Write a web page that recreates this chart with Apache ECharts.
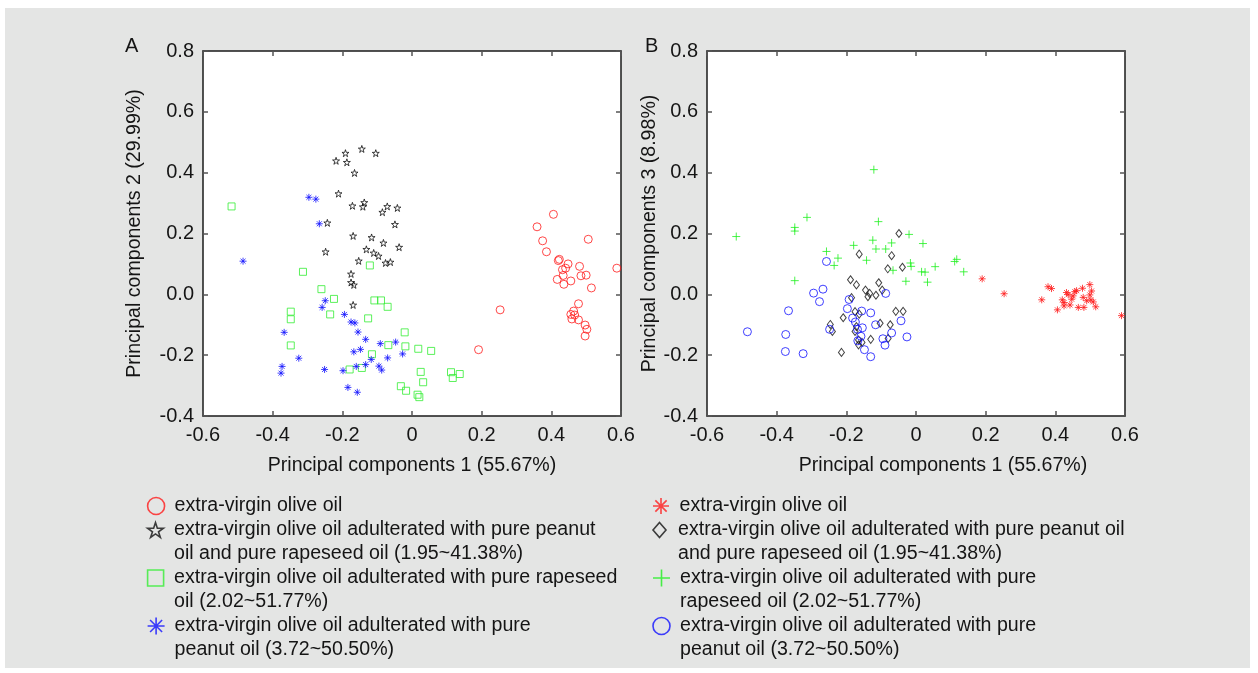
<!DOCTYPE html>
<html>
<head>
<meta charset="utf-8">
<script src="https://cdn.jsdelivr.net/npm/echarts@6/dist/echarts.min.js"></script>
<style>
  html, body { margin: 0; padding: 0; background: #fff; }
  #panel { position: absolute; left: 5px; top: 8px; width: 1245px; height: 660px; background: #e4e5e4; }
  #chart { position: absolute; left: 0; top: 0; width: 1258px; height: 673px; }
</style>
</head>
<body>
<div id="panel"></div>
<div id="chart"></div>
<script>
// Tick labels shared by both panels
const xTickLabels = ['-0.6', '-0.4', '-0.2', '0', '0.2', '0.4', '0.6'];
const yTickLabels = ['-0.4', '-0.2', '0.0', '0.2', '0.4', '0.6', '0.8'];

const panelTitles = ['A', 'B'];
const xAxisTitles = ['Principal components 1 (55.67%)', 'Principal components 1 (55.67%)'];
const yAxisTitles = ['Principal components 2 (29.99%)', 'Principal components 3 (8.98%)'];

// Panel A: PC1 vs PC2 scores
const aOlive = [
  [0.406, 0.263], [0.359, 0.222], [0.506, 0.181], [0.375, 0.176], [0.386, 0.140],
  [0.423, 0.115], [0.420, 0.111], [0.448, 0.100], [0.481, 0.092], [0.588, 0.086],
  [0.432, 0.081], [0.441, 0.086], [0.434, 0.062], [0.485, 0.061], [0.500, 0.063],
  [0.417, 0.049], [0.456, 0.044], [0.436, 0.033], [0.515, 0.021], [0.478, -0.031],
  [0.464, -0.055], [0.456, -0.066], [0.467, -0.068], [0.459, -0.081], [0.478, -0.084],
  [0.497, -0.101], [0.502, -0.115], [0.497, -0.137], [0.253, -0.051], [0.191, -0.182]
];
const aPeanutRapeseed = [
  [-0.144, 0.478], [-0.191, 0.464], [-0.104, 0.464], [-0.218, 0.439], [-0.187, 0.434],
  [-0.165, 0.399], [-0.211, 0.331], [-0.171, 0.291], [-0.137, 0.302], [-0.141, 0.288],
  [-0.071, 0.289], [-0.042, 0.284], [-0.085, 0.270], [-0.243, 0.235], [-0.049, 0.230],
  [-0.169, 0.192], [-0.116, 0.187], [-0.082, 0.169], [-0.037, 0.155], [-0.131, 0.148],
  [-0.248, 0.140], [-0.110, 0.136], [-0.096, 0.126], [-0.153, 0.110], [-0.076, 0.103],
  [-0.062, 0.106], [-0.175, 0.067], [-0.175, 0.039], [-0.167, 0.031], [-0.169, -0.035]
];
const aRapeseed = [
  [-0.518, 0.289], [-0.121, 0.095], [-0.313, 0.074], [-0.260, 0.017], [-0.224, -0.015],
  [-0.108, -0.020], [-0.089, -0.020], [-0.070, -0.041], [-0.348, -0.057], [-0.348, -0.082],
  [-0.235, -0.066], [-0.126, -0.079], [-0.021, -0.125], [-0.348, -0.168], [-0.068, -0.167],
  [-0.019, -0.171], [0.018, -0.179], [0.055, -0.186], [-0.115, -0.197], [-0.179, -0.247],
  [-0.144, -0.242], [0.025, -0.255], [0.032, -0.289], [-0.032, -0.302], [-0.017, -0.317],
  [0.016, -0.330], [0.021, -0.338], [0.112, -0.256], [0.137, -0.262], [0.117, -0.275]
];
const aPeanut = [
  [-0.296, 0.319], [-0.276, 0.313], [-0.266, 0.232], [-0.485, 0.109], [-0.249, -0.021],
  [-0.258, -0.043], [-0.194, -0.066], [-0.175, -0.091], [-0.164, -0.094], [-0.367, -0.125],
  [-0.155, -0.124], [-0.133, -0.148], [-0.091, -0.162], [-0.047, -0.157], [-0.167, -0.189],
  [-0.148, -0.181], [-0.027, -0.196], [-0.325, -0.210], [-0.117, -0.214], [-0.070, -0.209],
  [-0.160, -0.237], [-0.133, -0.231], [-0.095, -0.236], [-0.087, -0.249], [-0.373, -0.237],
  [-0.376, -0.259], [-0.251, -0.247], [-0.198, -0.251], [-0.184, -0.306], [-0.157, -0.322]
];

// Panel B: PC1 vs PC3 scores
const bOlive = [
  [0.190, 0.051], [0.253, 0.002], [0.361, -0.018], [0.379, 0.025], [0.389, 0.019],
  [0.406, -0.051], [0.420, -0.018], [0.425, -0.027], [0.432, 0.006], [0.437, -0.001],
  [0.447, -0.016], [0.442, -0.035], [0.425, -0.038], [0.456, 0.009], [0.461, 0.012],
  [0.478, 0.020], [0.499, 0.032], [0.504, 0.011], [0.466, -0.043], [0.482, -0.043],
  [0.480, -0.010], [0.490, -0.021], [0.502, -0.018], [0.509, -0.025], [0.516, -0.041],
  [0.499, -0.002], [0.590, -0.070], [0.451, -0.005]
];
const bPeanutRapeseed = [
  [-0.049, 0.200], [-0.163, 0.132], [-0.070, 0.127], [-0.039, 0.089], [-0.081, 0.084],
  [-0.188, 0.048], [-0.107, 0.038], [-0.171, 0.031], [-0.145, 0.014], [-0.097, 0.014],
  [-0.133, 0.003], [-0.115, -0.003], [-0.138, -0.008], [-0.185, -0.011], [-0.175, -0.057],
  [-0.163, -0.065], [-0.058, -0.056], [-0.037, -0.056], [-0.209, -0.077], [-0.246, -0.099],
  [-0.103, -0.095], [-0.074, -0.100], [-0.240, -0.122], [-0.171, -0.106], [-0.175, -0.122],
  [-0.165, -0.150], [-0.130, -0.148], [-0.080, -0.145], [-0.155, -0.158], [-0.165, -0.166],
  [-0.214, -0.191]
];
const bRapeseed = [
  [-0.121, 0.410], [-0.313, 0.253], [-0.348, 0.220], [-0.348, 0.208], [-0.516, 0.190],
  [-0.108, 0.239], [-0.020, 0.197], [-0.124, 0.178], [-0.179, 0.161], [-0.070, 0.169],
  [-0.115, 0.149], [-0.087, 0.149], [0.020, 0.167], [-0.257, 0.141], [-0.224, 0.119],
  [-0.235, 0.095], [-0.142, 0.112], [-0.016, 0.103], [-0.014, 0.092], [-0.066, 0.079],
  [0.016, 0.074], [0.026, 0.073], [0.055, 0.091], [0.111, 0.108], [0.117, 0.115],
  [-0.348, 0.045], [-0.029, 0.043], [0.033, 0.040], [0.137, 0.074]
];
const bPeanut = [
  [-0.257, 0.108], [-0.267, 0.017], [-0.294, 0.004], [-0.277, -0.024], [-0.087, 0.003],
  [-0.192, -0.017], [-0.366, -0.054], [-0.197, -0.047], [-0.156, -0.055], [-0.130, -0.061],
  [-0.182, -0.078], [-0.174, -0.091], [-0.043, -0.087], [-0.116, -0.100], [-0.154, -0.110],
  [-0.248, -0.115], [-0.484, -0.123], [-0.374, -0.132], [-0.168, -0.115], [-0.158, -0.138],
  [-0.070, -0.127], [-0.026, -0.140], [-0.095, -0.146], [-0.167, -0.153], [-0.089, -0.167],
  [-0.148, -0.182], [-0.130, -0.205], [-0.375, -0.188], [-0.324, -0.195]
];

// Legend wording per series (line breaks as set in each panel)
const legendText = {
  'A olive': ['extra-virgin olive oil'],
  'A peanut+rapeseed': ['extra-virgin olive oil adulterated with pure peanut', 'oil and pure rapeseed oil (1.95~41.38%)'],
  'A rapeseed': ['extra-virgin olive oil adulterated with pure rapeseed', 'oil (2.02~51.77%)'],
  'A peanut': ['extra-virgin olive oil adulterated with pure', 'peanut oil (3.72~50.50%)'],
  'B olive': ['extra-virgin olive oil'],
  'B peanut+rapeseed': ['extra-virgin olive oil adulterated with pure peanut oil', 'and pure rapeseed oil (1.95~41.38%)'],
  'B rapeseed': ['extra-virgin olive oil adulterated with pure', 'rapeseed oil (2.02~51.77%)'],
  'B peanut': ['extra-virgin olive oil adulterated with pure', 'peanut oil (3.72~50.50%)']
};

const FONT = '"Liberation Sans", Arial, Helvetica, sans-serif';
const TEXT = '#151515';

// Marker outlines
const STAR = 'path://M0,-10L2.245,-3.09L9.511,-3.09L3.633,1.18L5.878,8.09L0,3.82L-5.878,8.09L-3.633,1.18L-9.511,-3.09L-2.245,-3.09Z';
const ASTERISK = 'path://M0,-10L0,10M-10,0L10,0M-7.07,-7.07L7.07,7.07M-7.07,7.07L7.07,-7.07';
const PLUS = 'path://M0,-10L0,10M-10,0L10,0';
const SQUARE = 'path://M0,0L10,0L10,10L0,10Z';
const DIAMOND = 'path://M6.5,0L13,7.5L6.5,15L0,7.5Z';

const RED = '#ff1a1a', BLACK = '#111111', GREEN_A = '#33ee33', GREEN_B = '#1ef01e', BLUE = '#1010ff';

const gridsPx = [
  { left: 203, top: 51, width: 418, height: 365 },
  { left: 707, top: 51, width: 418, height: 365 }
];

const xAxes = [], yAxes = [];
gridsPx.forEach(function (g, p) {
  const tickStyle = { show: true, inside: true, length: 5, lineStyle: { color: '#555', width: 1.5 } };
  const lineStyle = { show: true, onZero: false, lineStyle: { color: '#1a1a1a', width: 1.5 } };
  xAxes.push({
    type: 'value', gridIndex: p, position: 'bottom', min: -0.6, max: 0.6, interval: 0.2,
    splitLine: { show: false }, axisLine: lineStyle, axisTick: tickStyle,
    axisLabel: {
      show: true, margin: 9, fontSize: 20, color: TEXT, fontFamily: FONT,
      showMinLabel: true, showMaxLabel: true,
      formatter: function (v, i) { return xTickLabels[i]; }
    },
    name: xAxisTitles[p], nameLocation: 'middle', nameGap: 40,
    nameTextStyle: { fontSize: 19.6, color: TEXT, fontFamily: FONT, padding: p === 1 ? [0, 0, 0, 54] : 0 }
  });
  xAxes.push({
    type: 'value', gridIndex: p, position: 'top', min: -0.6, max: 0.6, interval: 0.2,
    splitLine: { show: false }, axisLine: lineStyle, axisTick: tickStyle, axisLabel: { show: false }
  });
  yAxes.push({
    type: 'value', gridIndex: p, position: 'left', min: -0.4, max: 0.8, interval: 0.2,
    splitLine: { show: false }, axisLine: lineStyle, axisTick: tickStyle,
    axisLabel: {
      show: true, margin: 9, fontSize: 20, color: TEXT, fontFamily: FONT,
      showMinLabel: true, showMaxLabel: true,
      formatter: function (v, i) { return yTickLabels[i]; }
    },
    name: yAxisTitles[p], nameLocation: 'middle', nameGap: p === 0 ? 58 : 44,
    nameTextStyle: { fontSize: 19.6, color: TEXT, fontFamily: FONT }
  });
  yAxes.push({
    type: 'value', gridIndex: p, position: 'right', min: -0.4, max: 0.8, interval: 0.2,
    splitLine: { show: false }, axisLine: lineStyle, axisTick: tickStyle, axisLabel: { show: false }
  });
});

function scatter(name, panel, data, symbol, size, color) {
  return {
    type: 'scatter', name: name, xAxisIndex: panel * 2, yAxisIndex: panel * 2,
    data: data, symbol: symbol, symbolSize: size,
    itemStyle: { color: 'transparent', borderColor: color, borderWidth: 1 },
    emphasis: { disabled: true }
  };
}

const series = [
  scatter('A olive', 0, aOlive, 'circle', 8, RED),
  scatter('A peanut+rapeseed', 0, aPeanutRapeseed, STAR, 7, BLACK),
  scatter('A rapeseed', 0, aRapeseed, SQUARE, 7, GREEN_A),
  scatter('A peanut', 0, aPeanut, ASTERISK, 7, BLUE),
  scatter('B olive', 1, bOlive, ASTERISK, 7, RED),
  scatter('B peanut+rapeseed', 1, bPeanutRapeseed, DIAMOND, [6, 8], BLACK),
  scatter('B rapeseed', 1, bRapeseed, PLUS, 8, GREEN_B),
  scatter('B peanut', 1, bPeanut, 'circle', 8, BLUE)
];

// One legend block per entry, icon on the first text line
const legendItems = [
  { name: 'A olive', icon: 'circle', color: RED, center: 160.3, line: 506, h: 17 },
  { name: 'A peanut+rapeseed', icon: STAR, color: BLACK, center: 160.3, line: 530, h: 15 },
  { name: 'A rapeseed', icon: SQUARE, color: GREEN_A, center: 160.3, line: 578, h: 16 },
  { name: 'A peanut', icon: ASTERISK, color: BLUE, center: 160.3, line: 626, h: 17 },
  { name: 'B olive', icon: ASTERISK, color: RED, center: 665.7, line: 506, h: 16 },
  { name: 'B peanut+rapeseed', icon: DIAMOND, color: BLACK, center: 665.7, line: 530, h: 15 },
  { name: 'B rapeseed', icon: PLUS, color: GREEN_B, center: 665.7, line: 578, h: 17 },
  { name: 'B peanut', icon: 'circle', color: BLUE, center: 665.7, line: 626, h: 17 }
];
const LINE_H = 24;
const ICON_BOX = 27;
const legends = legendItems.map(function (it) {
  const lines = legendText[it.name];
  const twoLine = lines.length > 1;
  return {
    orient: 'vertical', left: it.center - ICON_BOX / 2, top: it.line - (twoLine ? 36 : 12),
    padding: 0, itemGap: 0, itemWidth: ICON_BOX, itemHeight: it.h, symbolKeepAspect: true,
    selectedMode: false,
    data: [{ name: it.name, icon: it.icon,
             itemStyle: { color: 'transparent', borderColor: it.color, borderWidth: 1.6 } }],
    formatter: function (n) {
      const l = legendText[n];
      return l.length > 1 ? '\n' + l[0] + '\n' + l[1] : l[0];
    },
    textStyle: { fontSize: 19.6, lineHeight: LINE_H, color: TEXT, fontFamily: FONT }
  };
});

const chart = echarts.init(document.getElementById('chart'), null, { renderer: 'canvas' });
chart.setOption({
  animation: false,
  backgroundColor: 'transparent',
  title: panelTitles.map(function (t, i) {
    return { text: t, left: i === 0 ? 125 : 645, top: 36, padding: 0,
             textStyle: { fontSize: 20, fontWeight: 'normal', color: TEXT, fontFamily: FONT } };
  }),
  grid: gridsPx.map(function (g) {
    return Object.assign({ show: true, backgroundColor: '#ffffff', borderWidth: 0, containLabel: false }, g);
  }),
  xAxis: xAxes,
  yAxis: yAxes,
  legend: legends,
  series: series
});
</script>
</body>
</html>
